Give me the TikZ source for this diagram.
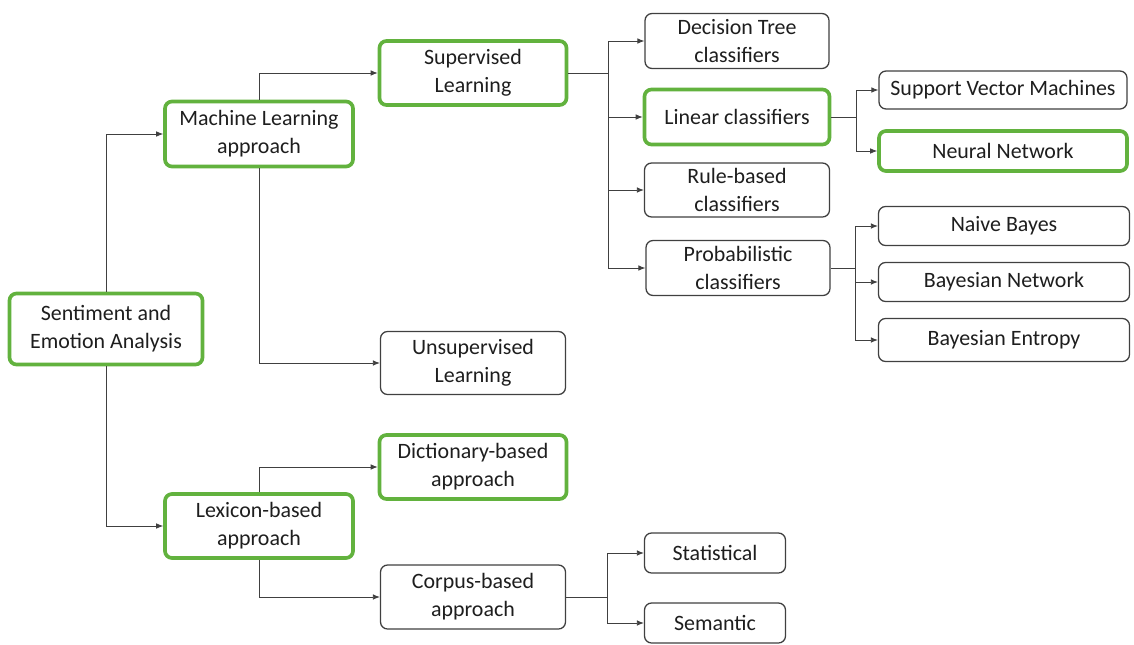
\documentclass[tikz,border=0pt]{standalone}
\usepackage{fontspec}
\setmainfont{Carlito}
\usepackage{tikz}
\usetikzlibrary{arrows.meta, positioning}
\definecolor{boxgreen}{RGB}{98, 178, 62}
\definecolor{linegray}{RGB}{64, 64, 64}
\definecolor{textgray}{RGB}{30, 30, 30}

\begin{document}
\begin{tikzpicture}[
    x=0.025cm, y=-0.025cm,
    box/.style={draw=linegray, line width=0.9pt, rounded corners=5pt, align=center,
        text=textgray, font=\fontsize{15.6}{20}\selectfont, inner sep=0pt, fill=white},
    gbox/.style={box, draw=boxgreen, line width=2.6pt},
    sz/.style 2 args={minimum width=#1*0.025cm, minimum height=#2*0.025cm},
    arr/.style={draw=linegray, line width=0.6pt, -{Latex[length=5pt, width=4pt]}},
    link/.style={draw=linegray, line width=0.6pt},
]
    \useasboundingbox (0,0) rectangle (1134,645);

    % Root
    \node[gbox, sz={193}{71}] (root) at (106,329) {Sentiment and\\Emotion Analysis};

    % Approaches
    \node[gbox, sz={188}{65}] (ml) at (259,134) {Machine Learning\\approach};
    \node[gbox, sz={188}{64}] (lex) at (259,526) {Lexicon-based\\approach};

    % Learning types
    \node[gbox, sz={187}{64}] (sup) at (473,73) {Supervised\\Learning};
    \node[box, sz={185}{63}] (unsup) at (473,363) {Unsupervised\\Learning};
    \node[gbox, sz={187}{64}] (dict) at (473,467) {Dictionary-based\\approach};
    \node[box, sz={185}{64}] (corp) at (473,597) {Corpus-based\\approach};

    % Classifiers
    \node[box, sz={184}{55}] (dt) at (737,41) {Decision Tree\\classifiers};
    \node[gbox, sz={185}{55}] (lin) at (737,117) {Linear classifiers};
    \node[box, sz={185}{54}] (rule) at (737,190) {Rule-based\\classifiers};
    \node[box, sz={184}{55}] (prob) at (738,268) {Probabilistic\\classifiers};

    % Leaves
    \node[box, sz={248}{38}] (svm) at (1003,90) {Support Vector Machines};
    \node[gbox, sz={248}{40}] (nn) at (1003,151) {Neural Network};
    \node[box, sz={251}{39}] (nb) at (1004,226) {Naive Bayes};
    \node[box, sz={251}{39}] (bn) at (1004,282) {Bayesian Network};
    \node[box, sz={251}{43}] (be) at (1004,340) {Bayesian Entropy};
    \node[box, sz={141}{40}] (stat) at (715,553) {Statistical};
    \node[box, sz={141}{40}] (sem) at (715,623) {Semantic};

    % Connectors
    \draw[arr] (root.north) |- (ml.west);
    \draw[arr] (root.south) |- (lex.west);
    \draw[arr] (ml.north) |- (sup.west);
    \draw[arr] (ml.south) |- (unsup.west);
    \draw[arr] (lex.north) |- (dict.west);
    \draw[arr] (lex.south) |- (corp.west);

    \draw[link] (sup.east) -- ++(40,0) coordinate (jsup);
    \foreach \n in {dt, lin, rule, prob}
        \draw[arr] (jsup) |- (\n.west);

    \draw[link] (lin.east) -- ++(25,0) coordinate (jlin);
    \foreach \n in {svm, nn}
        \draw[arr] (jlin) |- (\n.west);

    \draw[link] (prob.east) -- ++(25,0) coordinate (jprob);
    \foreach \n in {nb, bn, be}
        \draw[arr] (jprob) |- (\n.west);

    \draw[link] (corp.east) -- ++(41,0) coordinate (jcorp);
    \foreach \n in {stat, sem}
        \draw[arr] (jcorp) |- (\n.west);
\end{tikzpicture}
\end{document}
